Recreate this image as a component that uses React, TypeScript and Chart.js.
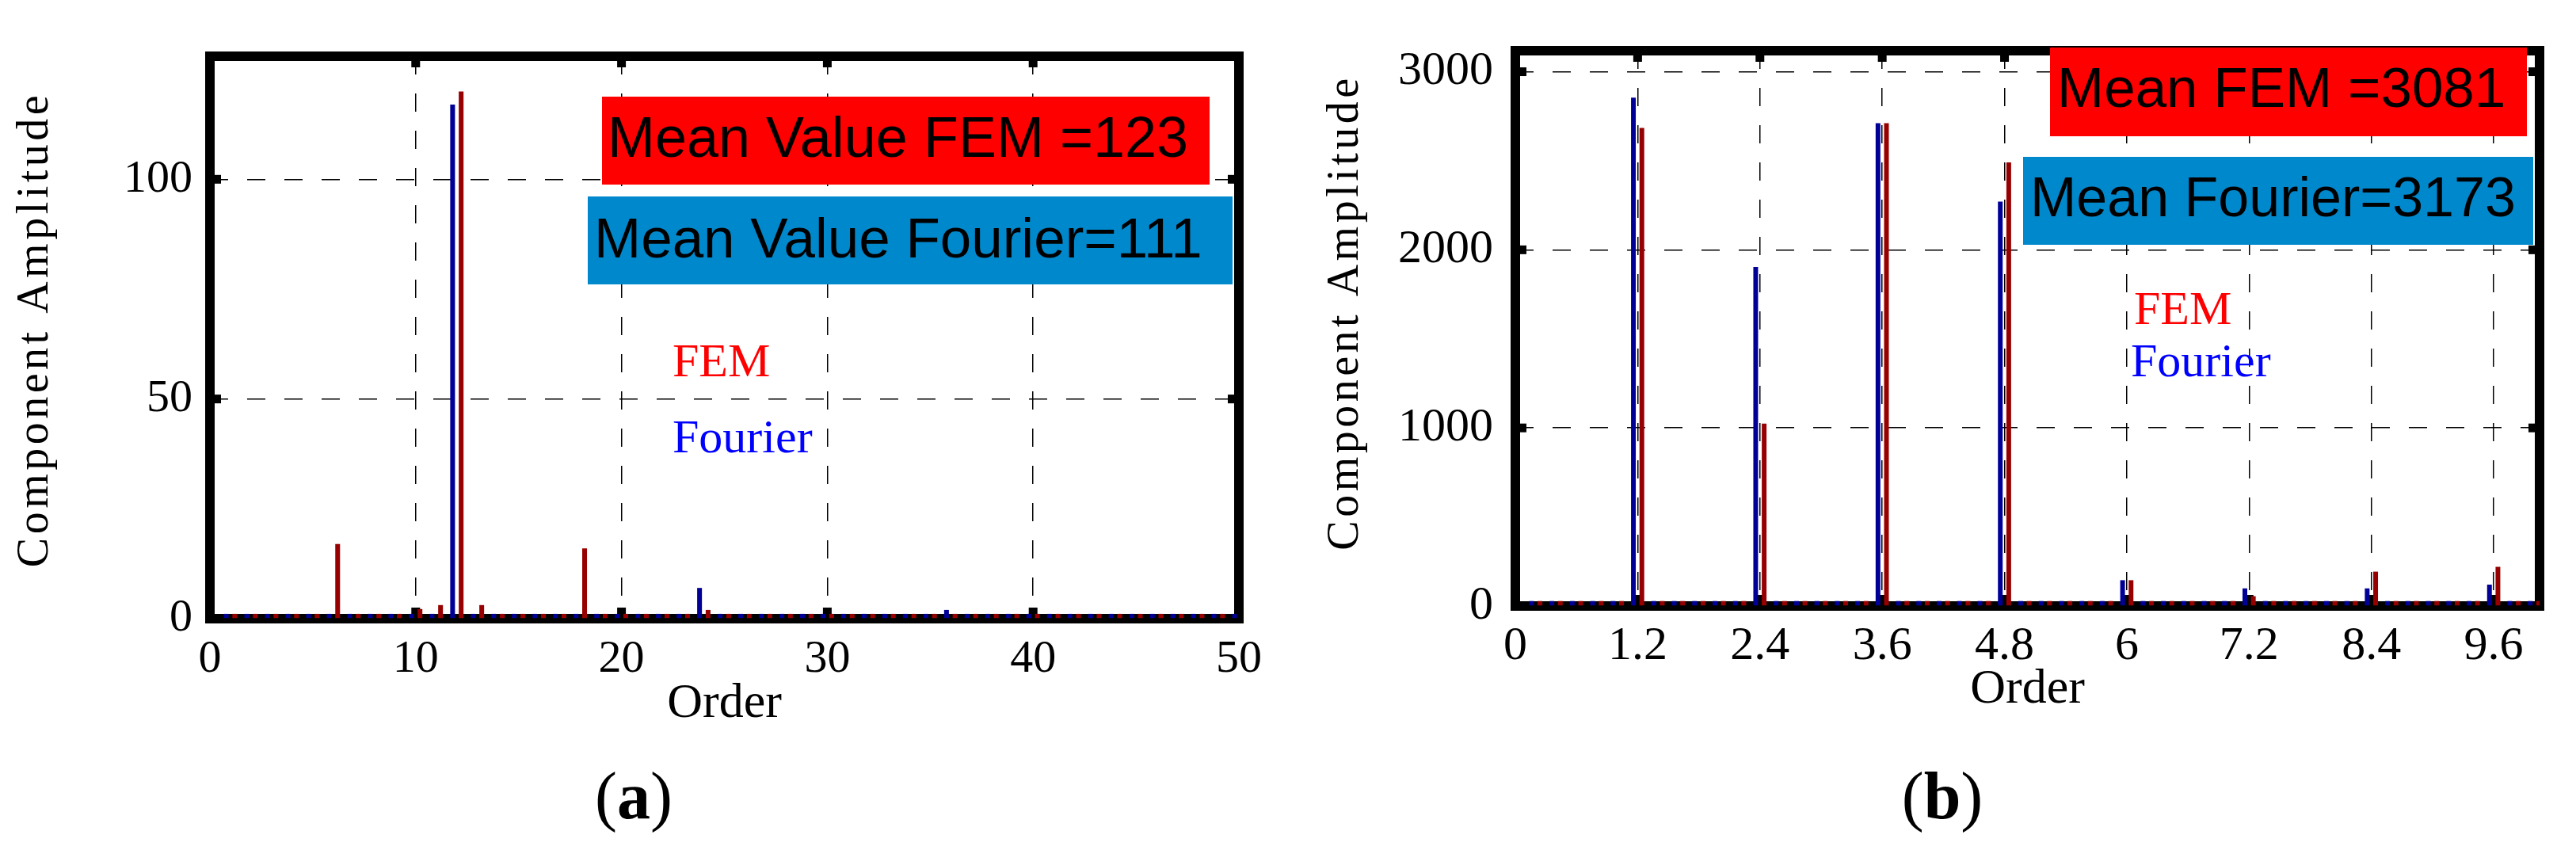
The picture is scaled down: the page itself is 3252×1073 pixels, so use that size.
import React, { useEffect, useRef } from "react";
import { Chart, registerables } from "chart.js";

Chart.register(...registerables);

// ---------------- Panel (a) data ----------------
const ordersA = [
  1, 2, 3, 4, 5, 6, 7, 8, 9, 10, 11, 12, 13, 14, 15, 16, 17, 18, 19, 20, 21, 22, 23, 24, 25,
  26, 27, 28, 29, 30, 31, 32, 33, 34, 35, 36, 37, 38, 39, 40, 41, 42, 43, 44, 45, 46, 47, 48, 49, 50,
];
const femA = [
  1.1, 1.1, 1.1, 1.1, 1.1, 17, 1.1, 1.1, 1.1, 2.2, 3.1, 120, 3.1, 1.1, 1.1, 1.1, 1.1, 16, 1.1, 1.1, 1.1, 1.1, 1.1, 2, 1.1,
  1.1, 1.1, 1.1, 1.1, 1.1, 1.1, 1.1, 1.1, 1.1, 1.1, 1.1, 1.1, 1.1, 1.1, 1.1, 1.1, 1.1, 1.1, 1.1, 1.1, 1.1, 1.1, 1.1, 1.1, 1.1,
];
const fourierA = [
  1.1, 1.1, 1.1, 1.1, 1.1, 1.1, 1.1, 1.1, 1.1, 1.1, 1.1, 117, 1.1, 1.1, 1.1, 1.1, 1.1, 1.1, 1.1, 1.1, 1.1, 1.1, 1.1, 7, 1.1,
  1.1, 1.1, 1.1, 1.1, 1.1, 1.1, 1.1, 1.1, 1.1, 1.1, 2, 1.1, 1.1, 1.1, 1.1, 1.1, 1.1, 1.1, 1.1, 1.1, 1.1, 1.1, 1.1, 1.1, 1.1,
];
const xTicksA = [0, 10, 20, 30, 40, 50];
const yTicksA = [0, 50, 100];

// ---------------- Panel (b) data ----------------
const ordersB = [
  0.2, 0.4, 0.6, 0.8, 1.0, 1.2, 1.4, 1.6, 1.8, 2.0, 2.2, 2.4, 2.6, 2.8, 3.0, 3.2, 3.4, 3.6, 3.8, 4.0, 4.2, 4.4, 4.6, 4.8, 5.0,
  5.2, 5.4, 5.6, 5.8, 6.0, 6.2, 6.4, 6.6, 6.8, 7.0, 7.2, 7.4, 7.6, 7.8, 8.0, 8.2, 8.4, 8.6, 8.8, 9.0, 9.2, 9.4, 9.6, 9.8, 10.0,
];
const femB = [
  28, 28, 28, 28, 28, 2684, 28, 28, 28, 28, 28, 1024, 28, 28, 28, 28, 28, 2711, 28, 28, 28, 28, 28, 2491, 28,
  28, 28, 28, 28, 145, 28, 28, 28, 28, 28, 55, 28, 28, 28, 28, 28, 193, 28, 28, 28, 28, 28, 220, 28, 28,
];
const fourierB = [
  28, 28, 28, 28, 28, 2855, 28, 28, 28, 28, 28, 1904, 28, 28, 28, 28, 28, 2711, 28, 28, 28, 28, 28, 2271, 28,
  28, 28, 28, 28, 145, 28, 28, 28, 28, 28, 99, 28, 28, 28, 28, 28, 99, 28, 28, 28, 28, 28, 120, 28, 28,
];
const xTicksB = [0, 1.2, 2.4, 3.6, 4.8, 6, 7.2, 8.4, 9.6];
const yTicksB = [0, 1000, 2000, 3000];

const SERIF = '"Liberation Serif", "Times New Roman", serif';
const SANS = '"Liberation Sans", Arial, sans-serif';
const FEM_COLOR = "#970000";
const FOURIER_COLOR = "#000097";

const framePlugin = {
  id: "frame",
  beforeDatasetsDraw(chart: any, _args: any, opts: any) {
    const { ctx, chartArea: a, scales } = chart;
    ctx.save();
    ctx.strokeStyle = "#000";
    ctx.lineWidth = opts.width;
    ctx.lineJoin = "miter";
    ctx.strokeRect(a.left, a.top, a.right - a.left, a.bottom - a.top);
    ctx.fillStyle = "#000";
    const half = opts.width / 2;
    const tw = opts.tickW;
    const tl = opts.tickLen;
    scales.x.ticks.forEach((t: any) => {
      const px = scales.x.getPixelForValue(t.value);
      if (px <= a.left + 2 || px >= a.right - 2) return;
      ctx.fillRect(px - tw / 2, a.top + half - 1, tw, tl + 1);
      ctx.fillRect(px - tw / 2, a.bottom - half - tl, tw, tl + 1);
    });
    scales.y.ticks.forEach((t: any) => {
      const py = scales.y.getPixelForValue(t.value);
      if (py <= a.top + 2 || py >= a.bottom - 2) return;
      ctx.fillRect(a.left + half - 1, py - tw / 2, tl + 1, tw);
      ctx.fillRect(a.right - half - tl, py - tw / 2, tl + 1, tw);
    });
    ctx.restore();
  },
};

const notesPlugin = {
  id: "notes",
  afterDraw(chart: any, _args: any, opts: any) {
    const { ctx } = chart;
    ctx.save();
    (opts.boxes || []).forEach((b: any) => {
      ctx.fillStyle = b.color;
      ctx.fillRect(b.x, b.y, b.w, b.h);
    });
    (opts.texts || []).forEach((t: any) => {
      ctx.font = t.font;
      ctx.fillStyle = t.color;
      ctx.textAlign = "left";
      ctx.textBaseline = "alphabetic";
      ctx.fillText(t.text, t.x, t.y);
    });
    ctx.restore();
  },
};

type Panel = {
  orders: number[];
  fem: number[];
  fourier: number[];
  xTicks: number[];
  yTicks: number[];
  xMax: number;
  yMax: number;
  pad: { left: number; right: number; top: number; bottom: number };
  yAxisW: number;
  xAxisH: number;
  xTickPad: number;
  yTickPad: number;
  tickSize: number;
  yTitlePad: number;
  yTitleShift: number;
  notes: any;
};

function buildConfig(p: Panel): any {
  const gridOpts = { color: "#000", lineWidth: 1.5, drawTicks: false, offset: false };
  const borderOpts = { display: false, dash: [23, 24] };
  return {
    type: "bar",
    data: {
      datasets: [
        {
          label: "Fourier",
          data: p.orders.map((o, i) => ({ x: o, y: p.fourier[i] })),
          backgroundColor: FOURIER_COLOR,
          borderWidth: 0,
          categoryPercentage: 0.83,
          barPercentage: 0.56,
        },
        {
          label: "FEM",
          data: p.orders.map((o, i) => ({ x: o, y: p.fem[i] })),
          backgroundColor: FEM_COLOR,
          borderWidth: 0,
          categoryPercentage: 0.83,
          barPercentage: 0.56,
        },
      ],
    },
    options: {
      responsive: false,
      animation: false,
      devicePixelRatio: 1,
      layout: { padding: p.pad },
      plugins: {
        legend: { display: false },
        tooltip: { enabled: false },
        frame: { width: 12, tickW: 11, tickLen: 8 },
        notes: p.notes,
      },
      scales: {
        x: {
          type: "linear",
          min: 0,
          max: p.xMax,
          offset: false,
          grid: gridOpts,
          border: borderOpts,
          ticks: {
            autoSkip: false,
            maxRotation: 0,
            padding: p.xTickPad,
            color: "#000",
            font: { family: SERIF, size: p.tickSize, lineHeight: 1.2 },
            callback: (v: any) => String(v),
          },
          afterBuildTicks: (s: any) => {
            s.ticks = p.xTicks.map((v) => ({ value: v }));
          },
          afterFit: (s: any) => {
            s.height = p.xAxisH;
          },
          title: {
            display: true,
            text: "Order",
            color: "#000",
            font: { family: SERIF, size: 62, lineHeight: 1 },
            padding: 0,
          },
        },
        y: {
          type: "linear",
          min: 0,
          max: p.yMax,
          grid: gridOpts,
          border: borderOpts,
          ticks: {
            padding: p.yTickPad,
            color: "#000",
            font: { family: SERIF, size: p.tickSize, lineHeight: 1.2 },
            callback: (v: any) => String(v),
          },
          afterBuildTicks: (s: any) => {
            s.ticks = p.yTicks.map((v) => ({ value: v }));
          },
          afterFit: (s: any) => {
            s.width = p.yAxisW;
            if (!s.__spaced) {
              const orig = s.drawTitle.bind(s);
              s.drawTitle = () => {
                const c = s.ctx;
                c.save();
                c.letterSpacing = "4.5px";
                c.translate(0, p.yTitleShift);
                orig();
                c.restore();
              };
              s.__spaced = true;
            }
          },
          title: {
            display: true,
            text: "Component Amplitude",
            color: "#000",
            font: { family: SERIF, size: 56, lineHeight: 1 },
            padding: { top: p.yTitlePad, bottom: 0 },
          },
        },
      },
    },
    plugins: [framePlugin, notesPlugin],
  };
}

const panelA: Panel = {
  orders: ordersA,
  fem: femA,
  fourier: fourierA,
  xTicks: xTicksA,
  yTicks: yTicksA,
  xMax: 50,
  yMax: 128,
  pad: { left: 0, right: 62, top: 71, bottom: 1073 - 781 - 139 },
  yAxisW: 265,
  xAxisH: 139,
  xTickPad: 17,
  yTickPad: 22,
  tickSize: 58,
  yTitlePad: 17,
  yTitleShift: -10,
  notes: {
    boxes: [
      { x: 760, y: 122, w: 767, h: 111, color: "#FF0000" },
      { x: 742, y: 248, w: 814, h: 111, color: "#0088CC" },
    ],
    texts: [
      { text: "Mean Value FEM =123", x: 767, y: 198, font: `72px ${SANS}`, color: "#000" },
      { text: "Mean Value Fourier=111", x: 750, y: 325, font: `71px ${SANS}`, color: "#000" },
      { text: "FEM", x: 849, y: 475, font: `60px ${SERIF}`, color: "#FF0000" },
      { text: "Fourier", x: 849, y: 571, font: `60px ${SERIF}`, color: "#0000FF" },
    ],
  },
};

const panelB: Panel = {
  orders: ordersB,
  fem: femB,
  fourier: fourierB,
  xTicks: xTicksB,
  yTicks: yTicksB,
  xMax: 10.05,
  yMax: 3118,
  pad: { left: 0, right: 46, top: 55, bottom: 1073 - 765 - 137 },
  yAxisW: 287,
  xAxisH: 137,
  xTickPad: 15,
  yTickPad: 28,
  tickSize: 60,
  yTitlePad: 45,
  yTitleShift: -20,
  notes: {
    boxes: [
      { x: 962, y: 60, w: 602, h: 112, color: "#FF0000" },
      { x: 928, y: 198, w: 644, h: 111, color: "#0088CC" },
    ],
    texts: [
      { text: "Mean FEM =3081", x: 971, y: 135, font: `71px ${SANS}`, color: "#000" },
      { text: "Mean Fourier=3173", x: 937, y: 273, font: `70px ${SANS}`, color: "#000" },
      { text: "FEM", x: 1068, y: 409, font: `60px ${SERIF}`, color: "#FF0000" },
      { text: "Fourier", x: 1064, y: 475, font: `60px ${SERIF}`, color: "#0000FF" },
    ],
  },
};

function PanelChart({ panel, left }: { panel: Panel; left: number }) {
  const ref = useRef<HTMLCanvasElement | null>(null);
  useEffect(() => {
    if (!ref.current) return;
    const chart = new Chart(ref.current, buildConfig(panel));
    return () => chart.destroy();
  }, [panel]);
  return (
    <canvas
      ref={ref}
      width={1626}
      height={1073}
      style={{ position: "absolute", left, top: 0, width: 1626, height: 1073 }}
    />
  );
}

function Caption({ letter, cx }: { letter: string; cx: number }) {
  return (
    <div
      style={{
        position: "absolute",
        left: cx - 100,
        top: 963,
        width: 200,
        textAlign: "center",
        fontFamily: SERIF,
        fontSize: 84,
        lineHeight: "84px",
        color: "#000",
      }}
    >
      (<b>{letter}</b>)
    </div>
  );
}

export default function App() {
  return (
    <div
      style={{
        position: "absolute",
        left: 0,
        top: 0,
        width: 3252,
        height: 1073,
        background: "#fff",
        overflow: "hidden",
      }}
    >
      <PanelChart panel={panelA} left={0} />
      <PanelChart panel={panelB} left={1626} />
      <Caption letter="a" cx={800} />
      <Caption letter="b" cx={2452} />
    </div>
  );
}
